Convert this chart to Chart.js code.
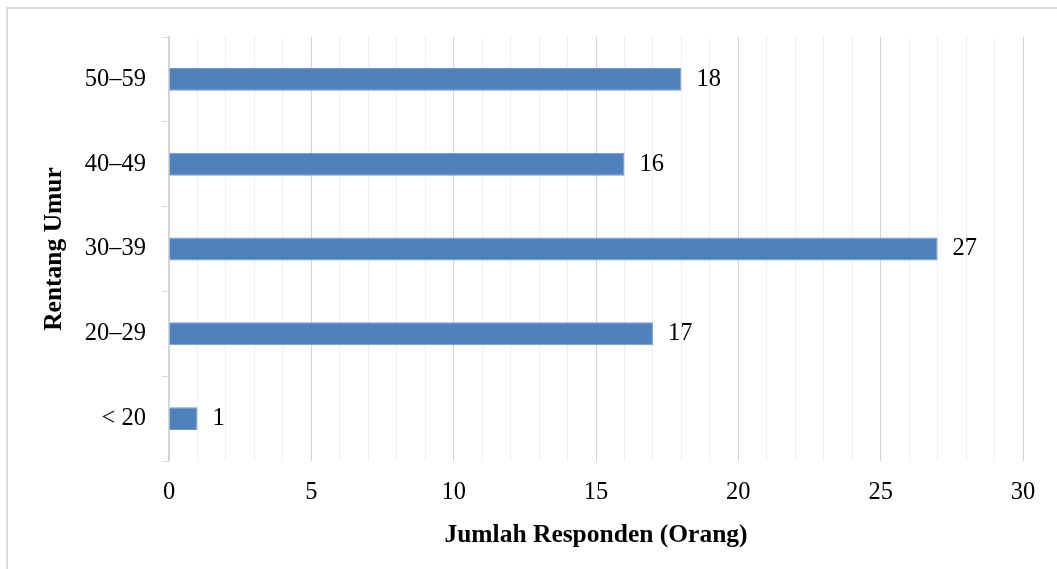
<!DOCTYPE html>
<html>
<head>
<meta charset="utf-8">
<script src="https://cdn.jsdelivr.net/npm/chart.js@4"></script>
<style>
  html, body { margin: 0; padding: 0; background: #fff; overflow: hidden; }
  #wrap { position: relative; width: 1057px; height: 569px; }
  #frame { position: absolute; left: 6px; top: 7px; width: 1200px; height: 700px;
           border-top: 2px solid #dadada; border-left: 2px solid #dadada; box-sizing: border-box; }
  #chart { position: absolute; left: 0; top: 0; }
</style>
</head>
<body>
<div id="wrap">
  <div id="frame"></div>
  <canvas id="chart" width="1057" height="569"></canvas>
</div>
<script>
const categories = ['50–59', '40–49', '30–39', '20–29', '< 20'];
const values = [18, 16, 27, 17, 1];
const xMin = 0, xMax = 30, xStep = 1, xLabelEvery = 5;
const xTitle = 'Jumlah Responden (Orang)';
const yTitle = 'Rentang Umur';

const serif = '"Liberation Serif", "DejaVu Serif", serif';
const tickSize = 24.5;
const titleSize = 25.5;

const valueLabels = {
  id: 'valueLabels',
  afterDatasetsDraw(chart) {
    const ctx = chart.ctx;
    const meta = chart.getDatasetMeta(0);
    ctx.save();
    ctx.font = tickSize + 'px ' + serif;
    ctx.fillStyle = '#000';
    ctx.textAlign = 'left';
    ctx.textBaseline = 'middle';
    meta.data.forEach((bar, i) => {
      ctx.fillText(String(chart.data.datasets[0].data[i]), bar.x + 15, bar.y);
    });
    ctx.restore();
  }
};

new Chart(document.getElementById('chart'), {
  type: 'bar',
  data: {
    labels: categories,
    datasets: [{
      data: values,
      backgroundColor: '#4f81bd',
      borderColor: '#6f98cc',
      borderWidth: 1,
      categoryPercentage: 1,
      barPercentage: 0.27
    }]
  },
  options: {
    indexAxis: 'y',
    responsive: false,
    animation: false,
    devicePixelRatio: 1,
    layout: { padding: { top: 37, right: 34, left: 0, bottom: 0 } },
    plugins: { legend: { display: false }, tooltip: { enabled: false } },
    scales: {
      x: {
        min: xMin, max: xMax,
        afterFit(scale) { scale.height = 108; },
        ticks: {
          stepSize: xStep,
          autoSkip: false,
          maxRotation: 0,
          padding: 17,
          color: '#000',
          font: { family: serif, size: tickSize },
          callback: (v) => (v % xLabelEvery === 0 ? String(v) : '')
        },
        grid: {
          drawTicks: false,
          lineWidth: 1,
          color: (c) => (c.tick && c.tick.value % xLabelEvery === 0 ? '#d4d4d4' : '#efefef')
        },
        border: { display: false },
        title: {
          display: true, text: xTitle, color: '#000',
          font: { family: serif, size: titleSize, weight: 'bold' },
          padding: { top: 0, bottom: 18 }
        }
      },
      y: {
        afterFit(scale) { scale.width = 169; },
        ticks: {
          padding: 16,
          color: '#000',
          font: { family: serif, size: tickSize }
        },
        grid: {
          offset: true,
          drawOnChartArea: false,
          drawTicks: true,
          tickLength: 7,
          color: '#d9d9d9',
          lineWidth: 1
        },
        border: { display: true, color: '#d4d4d4', width: 1.5 },
        title: {
          display: true, text: yTitle, color: '#000',
          font: { family: serif, size: titleSize, weight: 'bold' },
          padding: { top: 39, bottom: 0 }
        }
      }
    }
  },
  plugins: [valueLabels]
});
</script>
</body>
</html>
